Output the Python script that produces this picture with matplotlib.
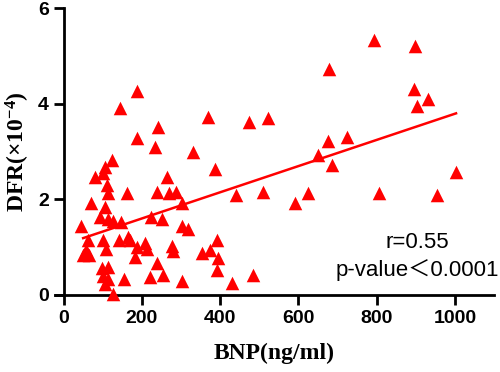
import numpy as np
import matplotlib.pyplot as plt

plt.rcParams['mathtext.fontset'] = 'custom'
plt.rcParams['mathtext.rm'] = 'Liberation Serif:bold'
plt.rcParams['mathtext.bf'] = 'Liberation Serif:bold'
plt.rcParams['mathtext.it'] = 'Liberation Serif:bold'

# BNP (ng/ml) vs DFR (x10^-4)
bnp = [45, 70, 80, 101, 106, 124, 144, 111, 114, 162,
       106, 93, 114, 126, 147, 62, 57, 50, 65, 101,
       109, 142, 165, 183, 98, 114, 101, 114, 106, 127,
       155, 188, 188, 234, 242, 331, 369, 264, 239, 270,
       287, 302, 223, 251, 302, 318, 170, 188, 208, 213,
       277, 280, 392, 374, 354, 395, 392, 239, 255, 221,
       302, 387, 430, 474, 522, 441, 510, 484, 591, 625,
       650, 686, 676, 724, 678, 793, 898, 895, 931, 903,
       1003, 806, 954]
dfr = [1.44, 1.92, 2.47, 2.55, 2.68, 2.82, 3.91, 2.30, 2.13, 2.13,
       1.84, 1.63, 1.59, 1.55, 1.53, 1.15, 0.94, 0.84, 0.84, 1.15,
       0.96, 1.15, 1.21, 0.79, 0.56, 0.59, 0.40, 0.33, 0.23, 0.02,
       0.33, 4.27, 3.28, 3.10, 3.51, 2.99, 3.72, 2.47, 2.15, 2.13,
       2.15, 1.92, 1.63, 1.59, 1.44, 1.38, 1.15, 1.00, 1.09, 0.96,
       1.03, 0.92, 1.15, 0.94, 0.88, 0.77, 0.52, 0.67, 0.42, 0.38,
       0.29, 2.64, 0.25, 3.62, 3.70, 2.09, 2.15, 0.42, 1.92, 2.13,
       2.93, 2.72, 3.22, 3.31, 4.73, 5.33, 5.21, 4.31, 4.10, 3.95,
       2.57, 2.13, 2.09]

# regression line ends
fit_x = [50, 1003]
fit_y = [1.19, 3.80]

x_ticks = [0, 200, 400, 600, 800, 1000]
y_ticks = [0, 2, 4, 6]

fig = plt.figure(figsize=(5, 3.72), dpi=100)
ax = fig.add_axes([0.11, 0.207, 0.878, 0.771])

ax.scatter(bnp, dfr, marker='^', s=95, color='#ff0000', linewidths=0,
           clip_on=False, zorder=3)
ax.plot(fit_x, fit_y, color='#ff0000', lw=1.8, zorder=2)

ax.set_xlim(-22, 1100)
ax.set_ylim(0, 6)
ax.set_xticks(x_ticks)
ax.set_yticks(y_ticks)

ax.spines['top'].set_visible(False)
ax.spines['right'].set_visible(False)
ax.spines['left'].set_position(('data', 0))
for s in ['left', 'bottom']:
    ax.spines[s].set_linewidth(2)
ax.tick_params(width=2, length=7.5, pad=3, labelsize=14)
for lab in ax.get_xticklabels() + ax.get_yticklabels():
    lab.set_family('Liberation Sans')
    lab.set_fontweight('bold')

ax.set_xlabel('BNP(ng/ml)', family='Liberation Serif', fontweight='bold',
              fontsize=17, labelpad=12)
ax.set_ylabel('DFR(×10$^{-4}$)', family='Liberation Serif', fontweight='bold',
              fontsize=17)
ax.yaxis.set_label_coords(-0.052, 0.5)

txt_font = ['Liberation Sans', 'Noto Sans CJK SC']
ax.text(903, 1.09, 'r=0.55', family=txt_font, fontsize=16, ha='center', va='center')
ax.text(903, 0.52, 'p-value＜0.0001', family=txt_font, fontsize=16, ha='center', va='center')

fig.savefig('out.png', dpi=100)
